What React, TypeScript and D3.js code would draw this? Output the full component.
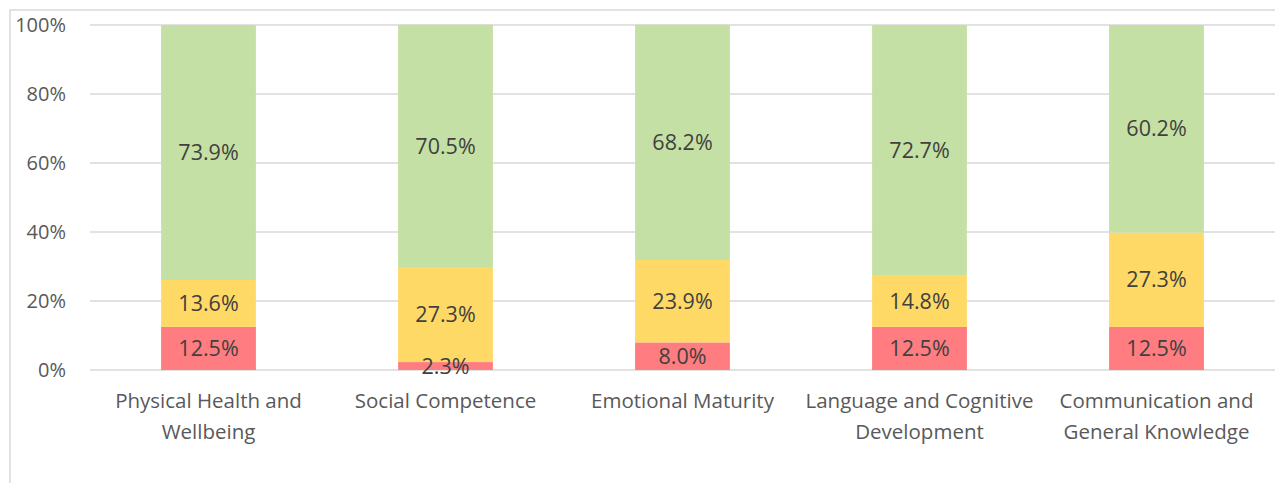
import React from 'react';
import * as d3 from 'd3';

const categories = [
  ['Physical Health and', 'Wellbeing'],
  ['Social Competence'],
  ['Emotional Maturity'],
  ['Language and Cognitive', 'Development'],
  ['Communication and', 'General Knowledge'],
];
const redValues = [12.5, 2.3, 8.0, 12.5, 12.5];
const yellowValues = [13.6, 27.3, 23.9, 14.8, 27.3];
const greenValues = [73.9, 70.5, 68.2, 72.7, 60.2];
const yTicks = [0, 20, 40, 60, 80, 100];

const seriesColors = ['#FF7C80', '#FFD966', '#C5E0A4'];
const font = '"Open Sans", sans-serif';

export default function App() {
  const width = 1275;
  const height = 483;
  const left = 90;
  const right = 1275;
  const top = 25;
  const bottom = 370;

  const keys = categories.map((c) => c.join(' '));
  const x = d3.scaleBand().domain(keys).range([left, right]).paddingInner(0.6).paddingOuter(0.3);
  const y = d3.scaleLinear().domain([0, 100]).range([bottom, top]);

  const rows = keys.map((k, i) => ({ key: k, red: redValues[i], yellow: yellowValues[i], green: greenValues[i] }));
  const stack = d3.stack<any>().keys(['red', 'yellow', 'green']);
  const layers = stack(rows);

  return (
    <svg width={width} height={height} style={{ position: 'absolute', left: 0, top: 0, display: 'block' }}>
      <rect x={0} y={0} width={width} height={height} fill="#fff" />
      <rect x={10} y={10} width={width + 10} height={height + 10} fill="none" stroke="#D9D9D9" strokeWidth={1.5} />
      {yTicks.map((t) => (
        <g key={t}>
          <line x1={left} x2={right} y1={y(t)} y2={y(t)} stroke="#D9D9D9" strokeWidth={1.5} />
          <text x={66} y={y(t)} dy="0.35em" textAnchor="end" fontFamily={font} fontSize={20} fill="#595959">
            {t}%
          </text>
        </g>
      ))}
      {layers.map((layer, li) =>
        layer.map((d, i) => (
          <rect
            key={li + '-' + i}
            x={x(keys[i])}
            y={y(d[1])}
            width={x.bandwidth()}
            height={y(d[0]) - y(d[1])}
            fill={seriesColors[li]}
          />
        ))
      )}
      {layers.map((layer, li) =>
        layer.map((d, i) => (
          <text
            key={'l' + li + '-' + i}
            x={(x(keys[i]) as number) + x.bandwidth() / 2}
            y={y((d[0] + d[1]) / 2)}
            dy="0.35em"
            textAnchor="middle"
            fontFamily={font}
            fontSize={21.5}
            fill="#404040"
          >
            {(d[1] - d[0]).toFixed(1)}%
          </text>
        ))
      )}
      {categories.map((lines, i) => (
        <text
          key={'c' + i}
          x={(x(keys[i]) as number) + x.bandwidth() / 2}
          y={401}
          textAnchor="middle"
          fontFamily={font}
          fontSize={20.5}
          fill="#595959"
        >
          {lines.map((ln, j) => (
            <tspan key={j} x={(x(keys[i]) as number) + x.bandwidth() / 2} dy={j === 0 ? '0.35em' : 31}>
              {ln}
            </tspan>
          ))}
        </text>
      ))}
    </svg>
  );
}
